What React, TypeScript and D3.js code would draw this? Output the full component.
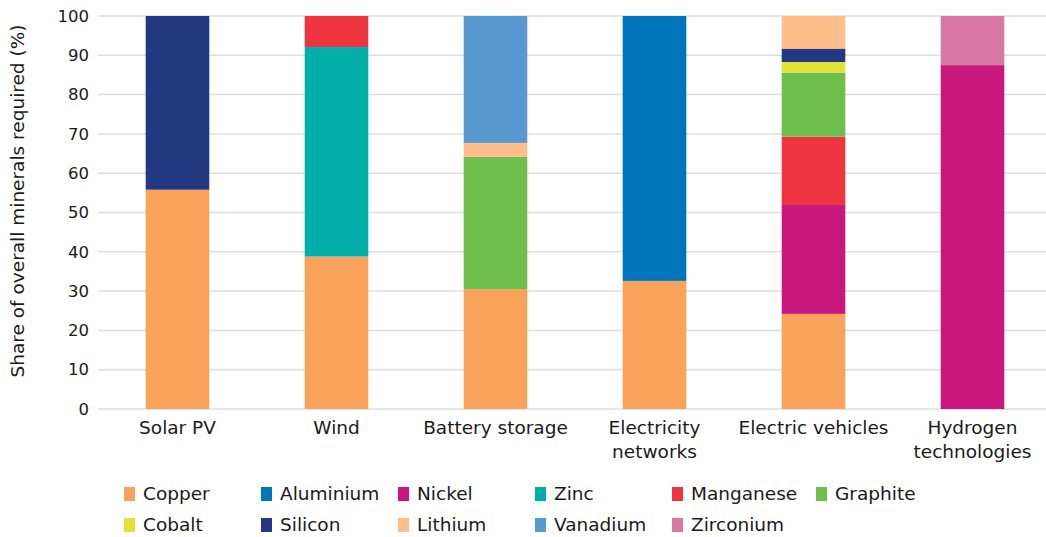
import React, { useEffect, useRef } from 'react';
import * as d3 from 'd3';

const categories = ['Solar PV', 'Wind', 'Battery storage', 'Electricity networks', 'Electric vehicles', 'Hydrogen technologies'];
const categoryLines = [['Solar PV'], ['Wind'], ['Battery storage'], ['Electricity', 'networks'], ['Electric vehicles'], ['Hydrogen', 'technologies']];

const minerals = ['Copper', 'Aluminium', 'Nickel', 'Zinc', 'Manganese', 'Graphite', 'Cobalt', 'Silicon', 'Lithium', 'Vanadium', 'Zirconium'];
const colors = ['#f8a25c', '#0075bc', '#c8187d', '#00aea9', '#ee3440', '#6dbe4b', '#e3e236', '#223880', '#fdbe8b', '#5898cf', '#d977a4'];

// values per category, in mineral order
const copper = [55.8, 38.8, 30.5, 32.6, 24.2, 0];
const aluminium = [0, 0, 0, 67.4, 0, 0];
const nickel = [0, 0, 0, 0, 27.7, 87.5];
const zinc = [0, 53.3, 0, 0, 0, 0];
const manganese = [0, 7.9, 0, 0, 17.4, 0];
const graphite = [0, 0, 33.7, 0, 16.3, 0];
const cobalt = [0, 0, 0, 0, 2.7, 0];
const silicon = [44.2, 0, 0, 0, 3.4, 0];
const lithium = [0, 0, 3.5, 0, 8.3, 0];
const vanadium = [0, 0, 32.3, 0, 0, 0];
const zirconium = [0, 0, 0, 0, 0, 12.5];

const yTicks = [0, 10, 20, 30, 40, 50, 60, 70, 80, 90, 100];

const App = () => {
  const ref = useRef<SVGSVGElement>(null);

  useEffect(() => {
    const width = 1046;
    const font = '"DejaVu Sans", sans-serif';
    const svg = d3.select(ref.current);
    svg.selectAll('*').remove();

    const series = [copper, aluminium, nickel, zinc, manganese, graphite, cobalt, silicon, lithium, vanadium, zirconium];
    const rows = categories.map((c, i) => {
      const r: any = { cat: c };
      minerals.forEach((m, j) => (r[m] = series[j][i]));
      return r;
    });
    const stacked = d3.stack().keys(minerals)(rows);

    const x = d3.scaleBand().domain(categories).range([98, 1052]).paddingInner(0.6).paddingOuter(0.3);
    const y = d3.scaleLinear().domain([0, 100]).range([409, 16]);
    const color = d3.scaleOrdinal<string>().domain(minerals).range(colors);

    // grid
    svg
      .append('g')
      .selectAll('line')
      .data(yTicks)
      .enter()
      .append('line')
      .attr('x1', 98)
      .attr('x2', width)
      .attr('y1', (d) => y(d))
      .attr('y2', (d) => y(d))
      .attr('stroke', '#dedede')
      .attr('stroke-width', 1.5);

    svg
      .append('g')
      .selectAll('text')
      .data(yTicks)
      .enter()
      .append('text')
      .attr('x', 89)
      .attr('y', (d) => y(d))
      .attr('dy', '0.35em')
      .attr('text-anchor', 'end')
      .attr('font-family', font)
      .attr('font-size', 16.5)
      .attr('fill', '#1a1a1a')
      .text((d) => d);

    svg
      .append('text')
      .attr('transform', `translate(24,201) rotate(-90)`)
      .attr('text-anchor', 'middle')
      .attr('font-family', font)
      .attr('font-size', 18.5)
      .attr('fill', '#1a1a1a')
      .text('Share of overall minerals required (%)');

    // bars
    svg
      .append('g')
      .selectAll('g')
      .data(stacked)
      .enter()
      .append('g')
      .attr('fill', (d) => color(d.key))
      .selectAll('rect')
      .data((d) => d)
      .enter()
      .append('rect')
      .attr('x', (d: any) => x(d.data.cat)!)
      .attr('width', x.bandwidth())
      .attr('y', (d) => y(d[1]))
      .attr('height', (d) => Math.max(0, y(d[0]) - y(d[1])));

    // category labels
    const cl = svg
      .append('g')
      .selectAll('text')
      .data(categories)
      .enter()
      .append('text')
      .attr('x', (d) => x(d)! + x.bandwidth() / 2)
      .attr('y', 434)
      .attr('text-anchor', 'middle')
      .attr('font-family', font)
      .attr('font-size', 18.5)
      .attr('fill', '#1a1a1a');
    cl.selectAll('tspan')
      .data((d, i) => categoryLines[i])
      .enter()
      .append('tspan')
      .attr('x', function () {
        return (this as any).parentNode.getAttribute('x');
      })
      .attr('dy', (d, i) => (i === 0 ? 0 : 24))
      .text((d) => d);

    // legend
    const legendX = [124, 261, 398, 535, 672, 816];
    const legend = svg
      .append('g')
      .selectAll('g')
      .data(minerals)
      .enter()
      .append('g')
      .attr('transform', (d, i) => `translate(${legendX[i % 6]},${i < 6 ? 494 : 525})`);
    legend
      .append('rect')
      .attr('x', 0)
      .attr('y', -7)
      .attr('width', 11)
      .attr('height', 14)
      .attr('fill', (d) => color(d));
    legend
      .append('text')
      .attr('x', 19)
      .attr('dy', '0.35em')
      .attr('font-family', font)
      .attr('font-size', 18.5)
      .attr('fill', '#1a1a1a')
      .text((d) => d);
  }, []);

  return <svg ref={ref} width={1046} height={537} style={{ position: 'absolute', left: 0, top: 0 }} />;
};

export default App;
